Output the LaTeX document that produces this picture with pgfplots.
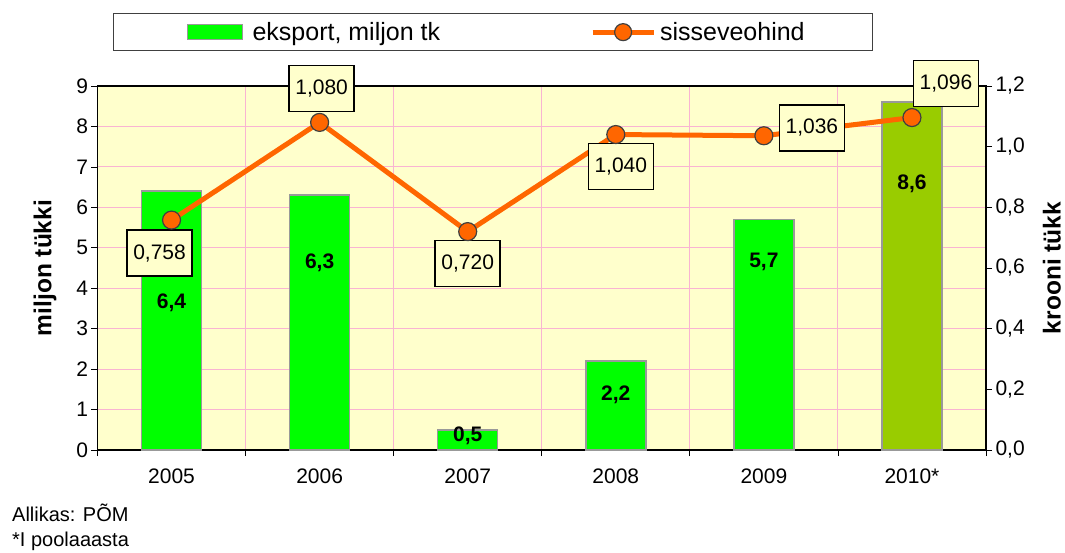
\documentclass[border=0pt]{standalone}
\usepackage{fontspec}
\setmainfont{Liberation Sans}
\usepackage{pgfplots}
\pgfplotsset{compat=1.18}
\definecolor{bgy}{HTML}{FFFFCC}
\definecolor{gridpink}{HTML}{F9B4D2}
\definecolor{bargreen}{HTML}{00FF00}
\definecolor{barolive}{HTML}{99CC00}
\definecolor{lineorange}{HTML}{FF6600}
\definecolor{edgegray}{HTML}{999999}
\definecolor{markedge}{HTML}{404040}
\definecolor{legframe}{HTML}{404040}
\tikzset{
  lbl/.style={draw=black, line width=1.5pt, fill=bgy, minimum width=65pt, minimum height=46pt, inner sep=2pt, font=\fontsize{21}{25}\selectfont},
  blbl/.style={font=\bfseries\fontsize{21}{25}\selectfont, inner sep=0pt},
}
\pgfplotsset{
  common/.style={
    at={(97.5pt,-450pt)}, anchor=south west,
    scale only axis, width=888.5pt, height=364pt,
    xmin=-0.5, xmax=5.5,
    tick align=outside, major tick length=6pt,
    tick style={black, line width=0.8pt},
    axis line style={line width=1.5pt},
    tick label style={font=\fontsize{21}{25}\selectfont},
    /pgf/number format/assume math mode=true,
    clip=false,
  },
}
\begin{document}
\begin{tikzpicture}
\path[use as bounding box] (0pt,0pt) rectangle (1065pt,-552pt);
\begin{axis}[common,
  ymin=0, ymax=9, ytick={0,1,...,9},
  ytick pos=left, xtick pos=bottom,
  xtick={-0.5,0.5,1.5,2.5,3.5,4.5,5.5}, xticklabels={},
  xmajorgrids, ymajorgrids,
  grid style={draw=gridpink, line width=1pt},
  extra x ticks={0,1,2,3,4,5},
  extra x tick labels={2005,2006,2007,2008,2009,2010*},
  extra x tick style={major tick length=0pt, grid=none},
  xticklabel style={yshift=-15pt},
  axis background/.style={fill=bgy},
  ylabel={miljon tükki},
  ylabel style={font=\bfseries\fontsize{24.5}{28}\selectfont, at={(axis description cs:-0.059,0.5)}, anchor=center},
  legend columns=2,
  legend style={at={(axis description cs:0.0175,1.148)}, anchor=west, draw=legframe, line width=1pt,
    font=\fontsize{25}{29}\selectfont, inner xsep=64pt, inner ysep=6pt,
    nodes={inner xsep=4pt, inner ysep=3pt},
    /tikz/every even column/.append style={column sep=146pt}},
]
\addplot[ybar, bar width=60pt, bar shift=0pt, fill=bargreen, draw=edgegray, line width=1.5pt,
  legend image code/.code={\path[draw=none, fill=none] (0pt,0pt) rectangle (71pt,0.1pt); \draw[fill=bargreen, draw=edgegray, line width=1.5pt] (10pt,-7.5pt) rectangle (65pt,7.5pt);}]
  coordinates {(0,6.4) (1,6.3) (2,0.5) (3,2.2) (4,5.7)};
\addlegendentry{eksport, miljon tk}
\addplot[ybar, bar width=60pt, bar shift=0pt, fill=barolive, draw=edgegray, line width=1.5pt, forget plot]
  coordinates {(5,8.6)};
\addlegendimage{legend image code/.code={\draw[lineorange, line width=5pt] (0pt,0pt) -- (61pt,0pt); \draw[fill=lineorange, draw=markedge, line width=1.2pt] (30.5pt,0pt) circle (8.5pt);}}
\addlegendentry{sisseveohind}
\node[blbl] at (axis cs:0,3.64) {6,4};
\node[blbl] at (axis cs:1,4.62) {6,3};
\node[blbl] at (axis cs:2,0.35) {0,5};
\node[blbl] at (axis cs:3,1.36) {2,2};
\node[blbl] at (axis cs:4,4.65) {5,7};
\node[blbl] at (axis cs:5,6.58) {8,6};
\end{axis}
\begin{axis}[common,
  ymin=0, ymax=1.2, ytick={0,0.2,0.4,0.6,0.8,1.0,1.2},
  axis y line*=right, axis x line=none,
  yticklabel style={/pgf/number format/.cd, fixed, fixed zerofill, precision=1, use comma},
  ylabel={krooni tükk},
  ylabel style={font=\bfseries\fontsize{24.5}{28}\selectfont, at={(axis description cs:1.074,0.5)}, anchor=center},
]
\addplot[lineorange, line width=5pt, mark=*, mark size=9pt, mark options={fill=lineorange, draw=markedge, line width=1.2pt}]
  coordinates {(0,0.758) (1,1.080) (2,0.720) (3,1.040) (4,1.036) (5,1.096)};
\node[lbl, xshift=-12pt, yshift=-33pt] at (axis cs:0,0.758) {0,758};
\node[lbl, xshift=2pt, yshift=34pt] at (axis cs:1,1.080) {1,080};
\node[lbl, xshift=0pt, yshift=-32pt] at (axis cs:2,0.720) {0,720};
\node[lbl, xshift=5pt, yshift=-32pt] at (axis cs:3,1.040) {1,040};
\node[lbl, xshift=48pt, yshift=8pt] at (axis cs:4,1.036) {1,036};
\node[lbl, xshift=34pt, yshift=34pt] at (axis cs:5,1.096) {1,096};
\end{axis}
\node[anchor=base west, inner sep=0pt, font=\fontsize{20}{23}\selectfont] at (12pt,-521pt) {Allikas: PÕM};
\node[anchor=base west, inner sep=0pt, font=\fontsize{20}{23}\selectfont] at (12pt,-546pt) {*I poolaaasta};
\end{tikzpicture}
\end{document}
